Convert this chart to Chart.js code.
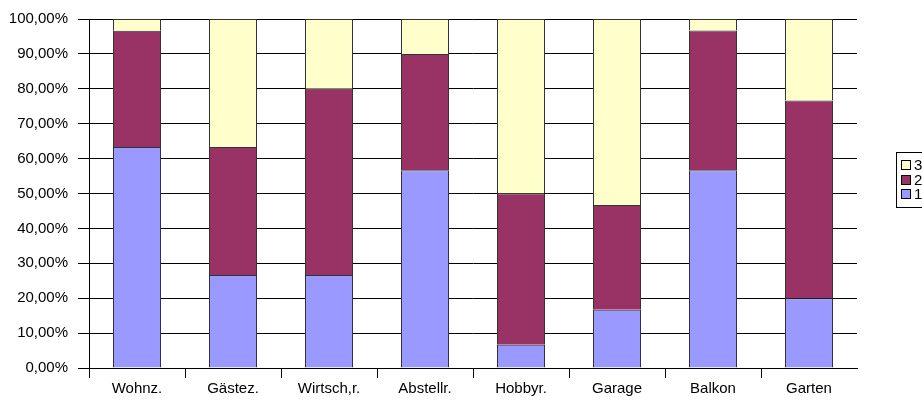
<!DOCTYPE html>
<html>
<head>
<meta charset="utf-8">
<script src="https://cdn.jsdelivr.net/npm/chart.js@4"></script>
<style>
  html, body { margin: 0; padding: 0; background: #fff; overflow: hidden; }
  #wrap { width: 922px; height: 403px; position: relative; }
</style>
</head>
<body>
<div id="wrap"><canvas id="chart" width="922" height="403"></canvas></div>
<script>
// Raumarten (x-Achse)
const rooms = ['Wohnz.', 'Gästez.', 'Wirtsch,r.', 'Abstellr.', 'Hobbyr.', 'Garage', 'Balkon', 'Garten'];

// Anteile je Bewertung in Prozent
const rating1 = [63.33, 26.67, 26.67, 56.67, 6.67, 16.67, 56.67, 20.00];
const rating2 = [33.33, 36.67, 53.33, 33.33, 43.33, 30.00, 40.00, 56.67];
const rating3 = [3.33, 36.67, 20.00, 10.00, 50.00, 53.33, 3.33, 23.33];

const seriesNames = ['1', '2', '3'];
const colors = ['#9999FF', '#993366', '#FFFFCC'];

const font = { family: 'Arial, "Liberation Sans", sans-serif', size: 15 };

// Legende rechts, wie im Original (Kasten am Rand abgeschnitten)
const sideLegend = {
  id: 'sideLegend',
  afterDraw(chart) {
    const ctx = chart.ctx;
    const sets = chart.data.datasets;
    const x = 896, y = 152, rowH = 14.5;
    ctx.save();
    ctx.fillStyle = '#fff';
    ctx.strokeStyle = '#000';
    ctx.lineWidth = 1;
    ctx.fillRect(x, y, 40, 55);
    ctx.strokeRect(x + 0.5, y + 0.5, 40, 55);
    ctx.font = '15px Arial, "Liberation Sans", sans-serif';
    ctx.textBaseline = 'middle';
    for (let i = sets.length - 1, row = 0; i >= 0; i--, row++) {
      const cy = Math.round(165 + row * rowH);
      ctx.fillStyle = sets[i].backgroundColor;
      ctx.fillRect(x + 5, cy - 5, 10, 10);
      ctx.strokeStyle = '#000';
      ctx.strokeRect(x + 5.5, cy - 4.5, 9, 9);
      ctx.fillStyle = '#000';
      ctx.fillText(sets[i].label, x + 18, cy + 1);
    }
    ctx.restore();
  }
};

new Chart(document.getElementById('chart'), {
  type: 'bar',
  data: {
    labels: rooms,
    datasets: [rating1, rating2, rating3].map((d, i) => ({
      label: seriesNames[i],
      data: d,
      backgroundColor: colors[i],
      borderColor: '#333',
      borderWidth: 1,
      barPercentage: 0.5,
      categoryPercentage: 1
    }))
  },
  options: {
    responsive: false,
    animation: false,
    layout: { padding: { left: 0, right: 65, top: 17, bottom: 3 } },
    plugins: { legend: { display: false }, tooltip: { enabled: false } },
    scales: {
      x: {
        stacked: true,
        grid: {
          drawOnChartArea: false,
          drawTicks: true,
          tickLength: 10,
          offset: true,
          color: '#000',
          // kein Teilstrich am rechten Ende der Achse
          tickColor: c => c.tick ? '#000' : 'rgba(0,0,0,0)'
        },
        border: { color: '#000' },
        ticks: { color: '#000', font, padding: 2 }
      },
      y: {
        stacked: true,
        min: 0,
        max: 100,
        afterFit(scale) { scale.width = 89; },
        grid: { color: '#000', tickLength: 11 },
        border: { color: '#000' },
        ticks: {
          stepSize: 10,
          color: '#000',
          font,
          padding: 10,
          callback: v => v.toFixed(2).replace('.', ',') + '%'
        }
      }
    }
  },
  plugins: [sideLegend]
});
</script>
</body>
</html>
